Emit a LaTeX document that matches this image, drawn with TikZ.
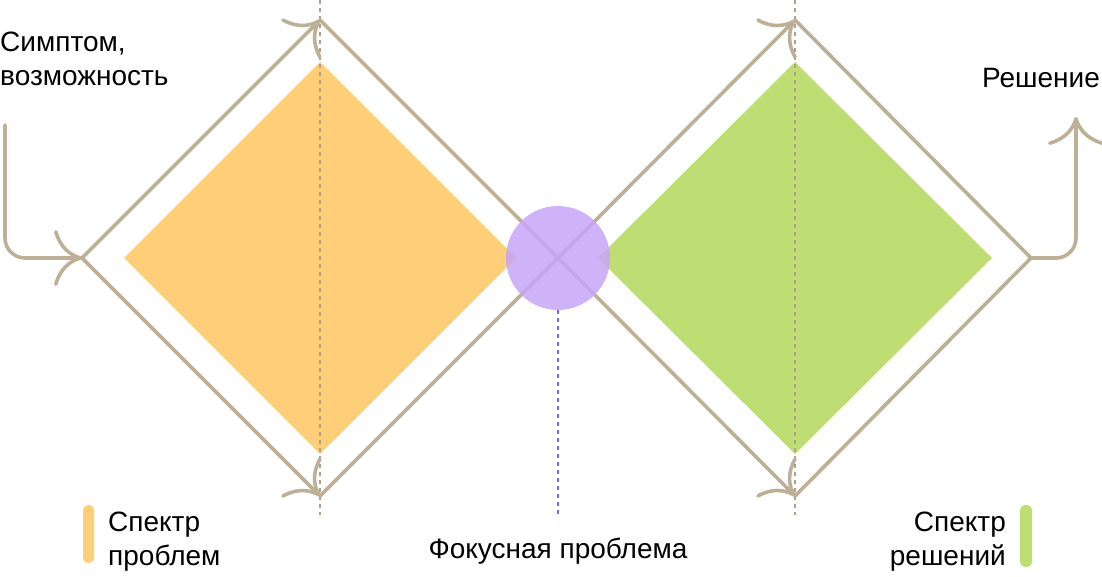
\documentclass[tikz,border=0pt]{standalone}
\usepackage{fontspec}
\setmainfont{Liberation Sans}
\usetikzlibrary{arrows.meta}
\definecolor{tanline}{RGB}{190,176,150}
\definecolor{tandash}{RGB}{176,160,138}
\definecolor{orangefill}{RGB}{255,206,120}
\definecolor{greenfill}{RGB}{190,222,115}
\definecolor{purplefill}{RGB}{198,166,248}
\definecolor{purpledash}{RGB}{140,90,230}
\begin{document}
\begin{tikzpicture}[x=1pt,y=-1pt,
  edge/.style={draw=tanline, line width=3.6pt, line cap=round, line join=miter},
  arr/.style={-{To[length=28pt,width=56pt]}},
  guide/.style={draw=tandash, line width=2pt, dash pattern=on 4pt off 4pt},
  focusguide/.style={draw=purpledash, line width=2pt, dash pattern=on 4pt off 4pt},
  lbl/.style={font=\fontsize{28}{34}\selectfont, inner sep=0pt, text=black},
  legendbar/.style={rounded corners=5pt}]
\useasboundingbox (0,0) rectangle (1102,577);
% fills
\fill[orangefill] (124,258) -- (320,62) -- (516,258) -- (320,454) -- cycle;
\fill[greenfill] (598,258) -- (795,62) -- (992,258) -- (795,454) -- cycle;
% guides
\coordinate (g1a) at (320,0); \coordinate (g1b) at (320,515);
\coordinate (g2a) at (795,0); \coordinate (g2b) at (795,515);
\draw[guide] (g1a) -- (g1b);
\draw[guide] (g2a) -- (g2b);
% vertices
\coordinate (L) at (82,258);
\coordinate (T) at (320,20);
\coordinate (B) at (320,496);
\coordinate (C) at (558,258);
\coordinate (T2) at (795,20);
\coordinate (B2) at (795,496);
\coordinate (R) at (1031,258);
\coordinate (in) at (5,125);
\coordinate (out) at (1076,117);
% diamond edges
\draw[edge, arr] (L) -- (T);
\draw[edge, arr] (L) -- (B);
\draw[edge] (T) -- (C);
\draw[edge] (B) -- (C);
\draw[edge, arr] (C) -- (T2);
\draw[edge, arr] (C) -- (B2);
\draw[edge] (T2) -- (R);
\draw[edge] (B2) -- (R);
% entry / exit
\draw[edge, arr, rounded corners=20pt] (in) |- (L);
\draw[edge, arr, rounded corners=20pt] (R) -| (out);
% focus
\node[circle, minimum size=104pt, inner sep=0pt, fill=purplefill, fill opacity=0.85] (focus) at (C) {};
\coordinate (fend) at (558,515);
\draw[focusguide] (focus.south) -- (fend);
% texts
\node[lbl, anchor=base west, align=left] (symptom) at (0,86) {Симптом,\\возможность};
\node[lbl, anchor=base east] (solution) at (1100,88) {Решение};
\node[lbl, anchor=base] (focuslbl) at (558,558) {Фокусная проблема};
\node[lbl, anchor=base west, align=left] (probspec) at (108,565) {Спектр\\проблем};
\node[lbl, anchor=base east, align=right] (solspec) at (1006,565) {Спектр\\решений};
% legend bars
\fill[orangefill, legendbar] (83,505) rectangle (94,563) node[midway] (barA) {};
\fill[greenfill, legendbar] (1020,505) rectangle (1032,567) node[midway] (barB) {};
\end{tikzpicture}
\end{document}
